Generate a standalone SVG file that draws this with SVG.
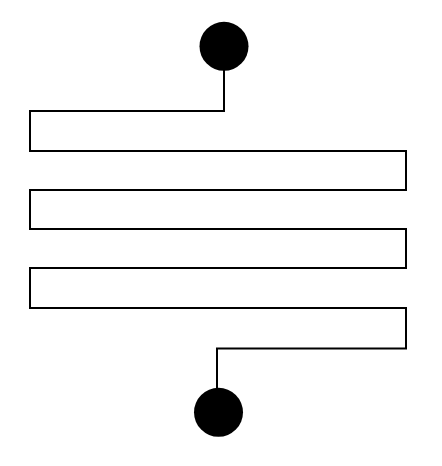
<svg xmlns="http://www.w3.org/2000/svg" width="442" height="466" viewBox="0 0 442 466">
<style>
.wire{fill:none;stroke:#000;stroke-width:2;stroke-linejoin:miter}
.term{fill:#000}
</style>
<rect width="442" height="466" fill="#fff"/>
<g id="connectors">
<path class="wire" d="M224,70 V111 H30 V151 H406 V190 H30 V229 H406 V268 H30 V308 H406 V348.5 H217 V390"/>
</g>
<g id="start"><circle class="term" cx="224" cy="46.3" r="24.5"/></g>
<g id="end"><circle class="term" cx="218.5" cy="412.3" r="24.5"/></g>
</svg>
